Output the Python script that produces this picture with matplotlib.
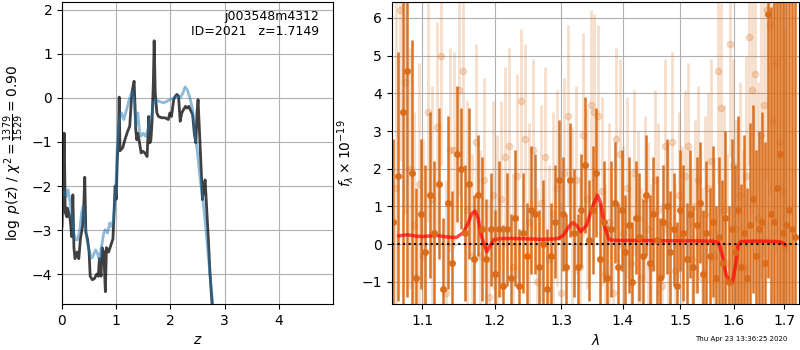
"""Redshift fit summary: p(z) and 1D spectrum with model."""

import matplotlib

matplotlib.use("Agg")

import matplotlib.pyplot as plt
from matplotlib.ticker import NullFormatter, NullLocator


# p(z) curves
pz_z_black = [0.00, 0.02, 0.04, 0.06, 0.09, 0.10, 0.13, 0.15, 0.18, 0.20, 0.22, 0.24,
              0.28, 0.31, 0.34, 0.38, 0.40, 0.42, 0.44, 0.47, 0.50, 0.52, 0.56, 0.60,
              0.64, 0.67, 0.69, 0.72, 0.74, 0.77, 0.80, 0.82, 0.86, 0.90, 0.94, 0.96,
              0.98, 1.00, 1.02, 1.04, 1.055, 1.07, 1.12, 1.16, 1.21, 1.25, 1.28, 1.30,
              1.33, 1.35, 1.36, 1.38, 1.40, 1.43, 1.46, 1.49, 1.53, 1.57, 1.60, 1.62,
              1.64, 1.66, 1.685, 1.70, 1.72, 1.75, 1.78, 1.84, 1.90, 1.96, 1.99, 2.02,
              2.06, 2.09, 2.12, 2.15, 2.18, 2.21, 2.24, 2.28, 2.31, 2.34, 2.38, 2.41,
              2.44, 2.47, 2.49, 2.51, 2.54, 2.57, 2.59, 2.62, 2.64, 2.66, 2.70, 2.73,
              2.78]
pz_black = [-2.92, -2.0, -0.8, -2.6, -2.7, -2.5, -2.65, -2.75, -3.15, -2.2, -3.4, -3.65,
            -3.5, -3.65, -3.2, -2.9, -2.5, -1.8, -3.05, -3.2, -3.5, -4.05, -4.13, -4.1,
            -4.0, -4.05, -3.65, -4.05, -3.4, -3.5, -4.4, -3.4, -3.5, -3.35, -3.2, -2.6,
            -2.0, -2.3, -1.4, -0.95, 0.02, -1.2, -1.13, -0.95, -0.76, -0.64, -0.04, 0.19,
            0.38, -0.27, -0.72, -0.95, -0.8, -1.02, -1.25, -1.21, -1.25, -1.33, -0.42, -1.02,
            -0.95, -0.57, 0.34, 1.3, 0.11, -0.34, -0.42, -0.45, -0.45, -0.49, -0.34, -0.42,
            -0.04, 0.04, 0.08, 0.04, -0.53, -0.34, -0.27, -0.19, -0.23, -0.19, -0.3, -0.38,
            -0.8, -1.02, -0.34, -0.04, -0.87, -1.7, -2.31, -2.0, -1.86, -2.31, -3.22, -3.98,
            -4.9]

pz_z_blue = [0.00, 0.04, 0.08, 0.11, 0.14, 0.18, 0.22, 0.25, 0.29, 0.33, 0.36, 0.39,
             0.43, 0.46, 0.50, 0.54, 0.57, 0.62, 0.65, 0.69, 0.73, 0.77, 0.80, 0.84,
             0.88, 0.91, 0.95, 0.99, 1.02, 1.055, 1.10, 1.14, 1.19, 1.24, 1.29, 1.33,
             1.36, 1.40, 1.43, 1.46, 1.50, 1.54, 1.59, 1.62, 1.65, 1.69, 1.73, 1.80,
             1.87, 1.93, 1.99, 2.06, 2.12, 2.18, 2.23, 2.27, 2.31, 2.36, 2.41, 2.45,
             2.50, 2.55, 2.60, 2.65, 2.70, 2.75, 2.80]
pz_blue = [-2.23, -2.12, -2.23, -2.08, -2.31, -2.69, -3.07, -3.22, -3.22, -2.99, -2.61, -2.46,
           -2.92, -3.22, -3.45, -3.64, -3.6, -3.45, -3.52, -3.67, -3.37, -3.07, -2.99, -3.07,
           -2.84, -2.92, -2.77, -2.16, -1.1, -0.49, -0.34, -0.49, -0.27, -0.04, 0.15, -0.04,
           -0.64, -0.34, -0.76, -0.87, -0.8, -0.87, -0.72, -0.49, -0.42, -0.11, -0.04, -0.08,
           -0.11, -0.08, -0.04, 0.0, 0.04, 0.0, 0.11, 0.25, 0.19, 0.0, -0.27, -0.8,
           -1.25, -1.86, -2.31, -2.92, -3.6, -4.28, -4.9]

# 1D spectrum, main grism (dark)
dark_wave = [1.062, 1.068, 1.074, 1.080, 1.086, 1.092, 1.098, 1.104, 1.110, 1.116,
             1.122, 1.128, 1.134, 1.140, 1.146, 1.152, 1.158, 1.164, 1.170, 1.176,
             1.182, 1.188, 1.194, 1.200, 1.206, 1.212, 1.218, 1.224, 1.230, 1.236,
             1.242, 1.248, 1.254, 1.260, 1.266, 1.272, 1.278, 1.284, 1.290, 1.296,
             1.302, 1.308, 1.314, 1.320, 1.326, 1.332, 1.338, 1.344, 1.350, 1.356,
             1.362, 1.368, 1.374, 1.380, 1.386, 1.392, 1.398, 1.404, 1.410, 1.416,
             1.422, 1.428, 1.434, 1.440, 1.446, 1.452, 1.458, 1.464, 1.470, 1.476,
             1.482, 1.488, 1.494, 1.500, 1.506, 1.512, 1.518, 1.524, 1.530, 1.536,
             1.542, 1.548, 1.554, 1.560, 1.566, 1.572, 1.578, 1.584, 1.590, 1.596,
             1.602, 1.608, 1.614, 1.620, 1.626, 1.632, 1.638, 1.644, 1.650, 1.656,
             1.662, 1.668, 1.674, 1.680, 1.686, 1.692, 1.698, 1.704, 1.710, 1.716,
             1.722]
dark_flux = [0.6, 1.8, 3.5, 4.6, 1.9, -0.9, 0.8, -0.2, 1.3, 0.3,
             1.6, -1.2, 1.1, -0.5, 2.4, 2.0, 0.3, 1.6, -0.4, 1.3,
             0.4, -0.4, 0.4, -0.8, 0.4, -1.1, 0.4, -0.9, 0.7, -1.1,
             0.3, -0.3, 0.9, 0.8, -0.6, 0.0, -1.2, -0.3, 0.6, 1.7,
             0.8, -0.6, 1.7, 0.3, -0.6, 0.9, 2.1, 0.1, 0.9, 1.9,
             -0.4, 0.6, -0.9, 0.4, 1.1, -0.6, 0.9, -0.2, 0.5, -1.0,
             0.7, 0.2, -0.3, 1.3, -0.5, 0.8, 0.1, -0.9, 0.6, 1.0,
             -0.2, 0.4, -1.1, 0.9, 0.3, -0.4, 0.8, -0.6, 0.5, 1.1,
             -0.8, 0.3, -0.3, 0.6, -0.9, 0.2, -0.5, 0.7, -1.0, 0.4,
             -0.2, 0.9, -0.6, 0.3, -0.9, 0.5, 1.2, -0.3, 0.4, 0.6,
             -0.5, 6.1, 0.8, 0.6, 1.5, 2.4, 0.3, 0.5, 0.9, 0.4,
             0.2]
dark_err = [2.2, 3.3, 5.5, 6.0, 3.5, 2.4, 2.0, 2.3, 2.2, 1.9,
            2.0, 1.9, 2.3, 1.9, 1.8, 1.6, 1.8, 2.0, 1.7, 1.6,
            1.9, 1.6, 1.5, 1.7, 1.8, 1.6, 1.5, 1.7, 1.8, 1.5,
            1.6, 1.4, 1.7, 1.6, 1.5, 1.7, 1.6, 1.4, 1.5, 1.6,
            1.5, 1.4, 1.5, 1.7, 1.4, 1.5, 1.8, 1.6, 1.7, 1.7,
            1.5, 1.6, 1.4, 1.8, 1.6, 1.7, 1.6, 1.5, 1.8, 1.6,
            1.5, 1.7, 1.5, 1.6, 1.8, 1.5, 1.7, 1.6, 1.5, 1.8,
            1.6, 1.5, 1.7, 1.6, 1.8, 1.5, 1.7, 1.6, 1.8, 1.6,
            1.7, 1.9, 1.8, 2.0, 1.9, 2.1, 2.2, 2.3, 2.0, 2.4,
            2.3, 2.5, 2.2, 2.6, 2.4, 2.7, 2.5, 2.8, 2.6, 2.9,
            3.2, 7.0, 5.5, 7.5, 6.0, 7.0, 8.0, 7.0, 8.0, 7.5,
            8.0]

# 1D spectrum, second orient (light)
light_wave = [1.065, 1.071, 1.077, 1.083, 1.089, 1.095, 1.101, 1.107, 1.113, 1.119,
              1.125, 1.131, 1.137, 1.143, 1.149, 1.155, 1.161, 1.167, 1.173, 1.179,
              1.185, 1.191, 1.197, 1.203, 1.209, 1.215, 1.221, 1.227, 1.233, 1.239,
              1.245, 1.251, 1.257, 1.263, 1.269, 1.275, 1.281, 1.287, 1.293, 1.299,
              1.305, 1.311, 1.317, 1.323, 1.329, 1.335, 1.341, 1.347, 1.353, 1.359,
              1.365, 1.371, 1.377, 1.383, 1.389, 1.395, 1.401, 1.407, 1.413, 1.419,
              1.425, 1.431, 1.437, 1.443, 1.449, 1.455, 1.461, 1.467, 1.473, 1.479,
              1.485, 1.491, 1.497, 1.503, 1.509, 1.515, 1.521, 1.527, 1.533, 1.539,
              1.545, 1.551, 1.557, 1.563, 1.569, 1.575, 1.581, 1.587, 1.593, 1.599,
              1.605, 1.611, 1.617, 1.623, 1.629, 1.635, 1.641, 1.647, 1.653, 1.659,
              1.665, 1.671, 1.677, 1.683, 1.689, 1.695, 1.701]
light_flux = [1.5, 6.2, 4.3, 2.0, 0.5, 1.6, -0.3, 3.5, 1.2, 3.1,
              5.0, -1.3, 2.5, 2.5, 4.1, 4.6, 0.9, -0.3, 2.7, -0.3,
              1.7, -1.4, 1.3, 0.2, 1.2, 2.3, 2.6, -0.6, 1.8, 3.8,
              2.8, 0.6, 2.5, -1.0, 1.1, 2.3, -0.4, 0.8, 1.5, -1.3,
              1.9, 3.4, 0.5, 1.7, -0.6, 2.9, 1.2, 3.7, 3.5, 3.4,
              1.4, -0.8, 0.6, -1.3, 2.8, 2.4, 0.3, 1.5, -0.5, 1.9,
              0.7, -0.9, 1.2, 0.4, -0.6, 1.7, 0.9, -1.1, 2.6, 0.5,
              2.7, -0.7, 1.3, 0.2, 1.8, 2.6, -0.4, 1.0, 1.7, -0.9,
              0.8, 1.5, 2.2, -0.3, 4.6, 3.6, 0.9, -0.5, 5.3, 2.1,
              0.4, 1.3, -0.6, 1.8, 5.5, 4.1, 4.5, 0.7, 2.9, 3.7,
              6.2, 5.8, 3.3, 4.8, 2.7, 1.4, -0.1]
light_err = [5.0, 4.0, 3.5, 3.2, 3.0, 3.2, 3.1, 2.9, 3.0, 2.8,
             2.9, 3.0, 2.7, 2.6, 2.8, 2.6, 2.9, 2.7, 2.6, 2.8,
             2.7, 2.6, 2.5, 2.7, 2.6, 2.4, 2.6, 2.5, 2.7, 1.9,
             2.5, 2.6, 2.4, 2.5, 2.6, 2.4, 2.5, 2.7, 2.6, 2.4,
             2.5, 2.4, 2.6, 2.5, 2.4, 2.7, 2.4, 2.5, 2.6, 2.4,
             2.5, 2.4, 2.6, 2.5, 2.4, 2.5, 2.3, 2.4, 2.3, 2.2,
             2.3, 2.4, 2.2, 2.3, 2.2, 2.4, 2.3, 2.2, 2.3, 2.2,
             2.4, 2.3, 2.2, 2.4, 2.3, 2.2, 2.4, 2.3, 2.5, 2.4,
             2.6, 2.5, 2.7, 2.6, 3.0, 2.8, 2.8, 2.9, 3.0, 2.8,
             2.9, 3.0, 3.1, 3.2, 3.4, 3.3, 3.5, 3.6, 3.8, 4.0,
             4.5, 4.5, 4.8, 5.0, 5.2, 5.5, 5.8]

# best-fit model
model_wave = [1.069, 1.080, 1.090, 1.100, 1.110, 1.120, 1.130, 1.140, 1.146, 1.155,
              1.162, 1.167, 1.172, 1.176, 1.181, 1.1885, 1.193, 1.1985, 1.21, 1.23,
              1.25, 1.27, 1.29, 1.298, 1.304, 1.311, 1.318, 1.324, 1.331, 1.340,
              1.346, 1.351, 1.358, 1.363, 1.369, 1.377, 1.39, 1.43, 1.48, 1.52,
              1.56, 1.571, 1.578, 1.585, 1.592, 1.597, 1.603, 1.608, 1.613, 1.63,
              1.66, 1.685, 1.695, 1.702]
model_flux = [0.22, 0.25, 0.22, 0.20, 0.22, 0.23, 0.20, 0.18, 0.18, 0.30,
              0.55, 0.80, 0.88, 0.70, 0.20, -0.20, -0.05, 0.12, 0.15, 0.15,
              0.14, 0.13, 0.14, 0.17, 0.25, 0.45, 0.57, 0.50, 0.33, 0.50,
              0.80, 1.05, 1.30, 1.10, 0.50, 0.12, 0.10, 0.10, 0.09, 0.09,
              0.08, 0.05, -0.30, -0.80, -1.00, -1.02, -0.60, -0.05, 0.07, 0.08,
              0.08, 0.07, 0.05, -0.02]

wave_ticks = [1.1, 1.2, 1.3, 1.4, 1.5, 1.6, 1.7]
spec_color = "#d96c1a"


def main() -> None:
    fig = plt.figure(figsize=(8.0, 3.5), dpi=100)

    ax = fig.add_axes([0.0775, 0.1314, 0.3388, 0.8629])
    ax.plot(pz_z_black, pz_black, color="k", alpha=0.75, lw=2)
    ax.plot(pz_z_blue, pz_blue, color="#1f77b4", alpha=0.5, lw=2)
    ax.set_xlim(0, 5.0)
    ax.set_ylim(-4.68, 2.18)
    ax.set_xticks([0, 1, 2, 3, 4])
    ax.set_yticks([-4, -3, -2, -1, 0, 1, 2])
    ax.grid(True)
    ax.set_axisbelow(True)
    ax.set_xlabel(r"$z$")
    ax.set_ylabel(r"$\log\ p(z)$ / $\chi^2=\frac{1379}{1529}=0.90$")
    ax.text(0.948, 0.975, "j003548m4312\nID=2021   z=1.7149",
            transform=ax.transAxes, ha="right", va="top", fontsize=9)

    bx = fig.add_axes([0.4896, 0.1314, 0.5094, 0.8629])
    bx.errorbar(light_wave, light_flux, yerr=light_err, color=spec_color, alpha=0.22,
                marker="o", ms=4.5, linestyle="none", elinewidth=2.0)
    bx.errorbar(dark_wave, dark_flux, yerr=dark_err, color=spec_color, alpha=0.95,
                marker="o", ms=4.0, linestyle="none", elinewidth=1.8)
    bx.plot(model_wave, model_flux, color="r", alpha=0.7, lw=2.5)
    bx.axhline(0, color="k", linestyle=":", lw=1.5)
    bx.set_xscale("log")
    bx.set_xlim(1.060, 1.731)
    bx.set_ylim(-1.585, 6.42)
    bx.set_xticks(wave_ticks)
    bx.set_xticklabels([f"{t:.1f}" for t in wave_ticks])
    bx.xaxis.set_minor_locator(NullLocator())
    bx.xaxis.set_minor_formatter(NullFormatter())
    bx.set_yticks([-1, 0, 1, 2, 3, 4, 5, 6])
    bx.grid(True)
    bx.set_xlabel(r"$\lambda$")
    bx.set_ylabel(r"$f_\lambda\times10^{-19}$")

    fig.text(0.984, 0.031, "Thu Apr 23 13:36:25 2020", ha="right", va="center", fontsize=5)
    fig.savefig("out.png", dpi=100)
    plt.close(fig)


if __name__ == "__main__":
    main()
